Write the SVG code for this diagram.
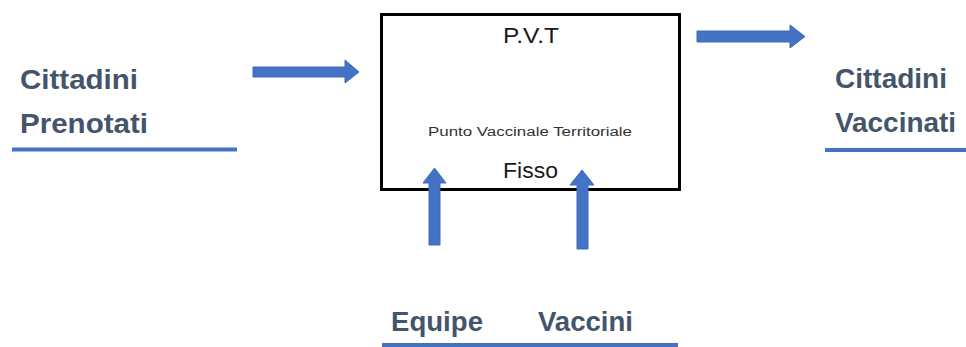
<svg xmlns="http://www.w3.org/2000/svg" width="966" height="347" viewBox="0 0 966 347">
  <style>
    .lbl { font-family: "Liberation Sans", Arial, sans-serif; font-weight: bold; font-size: 28px; fill: #44546A; }
    .box-t { font-family: "Liberation Sans", Arial, sans-serif; font-size: 22px; fill: #1a1a1a; }
    .small { font-family: "Liberation Sans", Arial, sans-serif; font-size: 12px; fill: #333333; }
    .uline { stroke: #4472C4; stroke-width: 4; fill: none; }
    .arrow { fill: #4472C4; stroke: #3F6AB8; stroke-width: 1; }
  </style>
  <rect width="966" height="347" fill="#ffffff"/>

  <g id="cittadini-prenotati">
    <text class="lbl" x="20" y="89" textLength="118" lengthAdjust="spacingAndGlyphs">Cittadini</text>
    <text class="lbl" x="20" y="133" textLength="128" lengthAdjust="spacingAndGlyphs">Prenotati</text>
    <line class="uline" x1="12" y1="149.5" x2="237" y2="149.5"/>
  </g>

  <g id="pvt">
    <rect x="381.5" y="14.5" width="298" height="175" fill="#ffffff" stroke="#000000" stroke-width="3"/>
    <text class="box-t" x="531" y="43" text-anchor="middle" textLength="56" lengthAdjust="spacingAndGlyphs">P.V.T</text>
    <text class="small" x="428" y="136" textLength="204" lengthAdjust="spacingAndGlyphs">Punto Vaccinale Territoriale</text>
    <text class="box-t" x="530.5" y="178" text-anchor="middle" textLength="55" lengthAdjust="spacingAndGlyphs">Fisso</text>
  </g>

  <g id="cittadini-vaccinati">
    <text class="lbl" x="835" y="88" textLength="112" lengthAdjust="spacingAndGlyphs">Cittadini</text>
    <text class="lbl" x="835" y="132" textLength="121" lengthAdjust="spacingAndGlyphs">Vaccinati</text>
    <line class="uline" x1="825" y1="150" x2="966" y2="150"/>
  </g>

  <g id="equipe">
    <text class="lbl" x="391" y="331" textLength="92" lengthAdjust="spacingAndGlyphs">Equipe</text>
  </g>

  <g id="vaccini">
    <text class="lbl" x="538" y="331" textLength="95" lengthAdjust="spacingAndGlyphs">Vaccini</text>
  </g>
  <line class="uline" x1="382" y1="345" x2="678" y2="345"/>

  <g id="connectors">
    <polygon class="arrow" points="253,67 345,67 345,60 359,72 345,83 345,77 253,77"/>
    <polygon class="arrow" points="697,31 790,31 790,25 805,36.5 790,48 790,42 697,42"/>
    <polygon class="arrow" points="429,245 429,183 423,183 434.5,168 446,183 440,183 440,245"/>
    <polygon class="arrow" points="577,249 577,185 570,185 582,170 594,185 588,185 588,249"/>
  </g>
</svg>
